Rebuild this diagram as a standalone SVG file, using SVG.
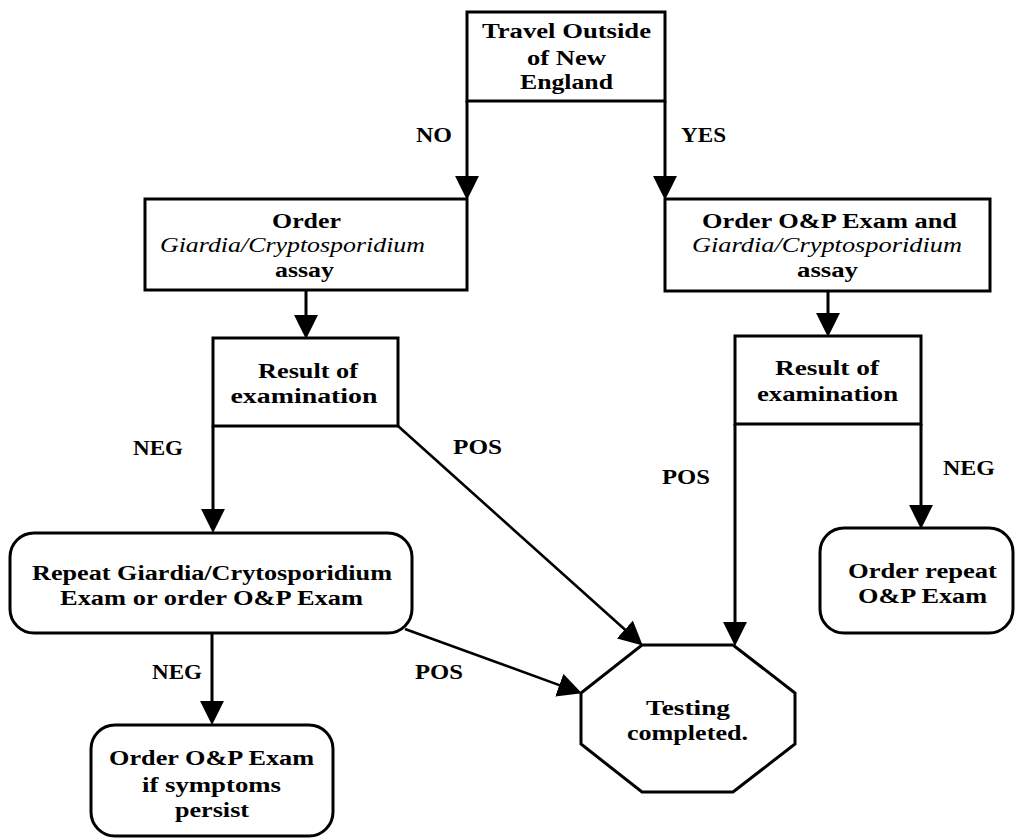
<svg xmlns="http://www.w3.org/2000/svg" width="1016" height="838" viewBox="0 0 1016 838">
<style>
.box{fill:#fff;stroke:#000;stroke-width:3}
.conn{fill:none;stroke:#000;stroke-width:3}
.diag{fill:none;stroke:#000;stroke-width:2.6}
text{font-family:"Liberation Serif","Times New Roman",serif;font-size:20px;font-weight:bold;fill:#000}
.c{text-anchor:middle}
.it{font-style:italic;font-weight:normal}
</style>
<defs>
<marker id="ah" markerUnits="userSpaceOnUse" markerWidth="24" markerHeight="24" viewBox="0 0 22 22" refX="12" refY="11" orient="auto">
<path d="M0,0 L22,11 L0,22 z" fill="#000"/>
</marker>
</defs>
<rect width="1016" height="838" fill="#fff"/>
<g id="connectors">
<line class="conn" x1="467" y1="101" x2="467" y2="189" marker-end="url(#ah)"/>
<line class="conn" x1="665" y1="101" x2="665" y2="189" marker-end="url(#ah)"/>
<line class="conn" x1="306" y1="290" x2="306" y2="328" marker-end="url(#ah)"/>
<line class="conn" x1="828" y1="291" x2="828" y2="326" marker-end="url(#ah)"/>
<line class="conn" x1="213" y1="426" x2="213" y2="522" marker-end="url(#ah)"/>
<line class="diag" x1="398" y1="426" x2="634.6" y2="638.3" marker-end="url(#ah)"/>
<line class="conn" x1="735" y1="424" x2="735" y2="635" marker-end="url(#ah)"/>
<line class="conn" x1="921" y1="424" x2="921" y2="518" marker-end="url(#ah)"/>
<line class="conn" x1="212" y1="633" x2="212" y2="714" marker-end="url(#ah)"/>
<line class="diag" x1="405" y1="629" x2="571.6" y2="689.6" marker-end="url(#ah)"/>
<text x="416" y="142" textLength="36" lengthAdjust="spacingAndGlyphs">NO</text>
<text x="681" y="142" textLength="45" lengthAdjust="spacingAndGlyphs">YES</text>
<text x="133" y="455" textLength="50" lengthAdjust="spacingAndGlyphs">NEG</text>
<text x="453" y="454" textLength="49" lengthAdjust="spacingAndGlyphs">POS</text>
<text x="662" y="484" textLength="48" lengthAdjust="spacingAndGlyphs">POS</text>
<text x="943" y="475" textLength="52" lengthAdjust="spacingAndGlyphs">NEG</text>
<text x="152" y="679" textLength="50" lengthAdjust="spacingAndGlyphs">NEG</text>
<text x="415" y="679" textLength="48" lengthAdjust="spacingAndGlyphs">POS</text>
</g>
<g id="travel">
<rect class="box" x="467" y="12" width="198" height="89"/>
<text class="c" x="566.5" y="38" textLength="169" lengthAdjust="spacingAndGlyphs">Travel Outside</text>
<text class="c" x="566.5" y="65" textLength="79" lengthAdjust="spacingAndGlyphs">of New</text>
<text class="c" x="566.5" y="89" textLength="93" lengthAdjust="spacingAndGlyphs">England</text>
</g>
<g id="order-left">
<rect class="box" x="145" y="199" width="322" height="91"/>
<text class="c" x="306.5" y="228" textLength="69" lengthAdjust="spacingAndGlyphs">Order</text>
<text class="c it" x="292.5" y="252" textLength="265" lengthAdjust="spacingAndGlyphs">Giardia/Cryptosporidium</text>
<text class="c" x="304.5" y="277" textLength="59" lengthAdjust="spacingAndGlyphs">assay</text>
</g>
<g id="order-right">
<rect class="box" x="665" y="199" width="325" height="92"/>
<text class="c" x="829.5" y="228" textLength="255" lengthAdjust="spacingAndGlyphs">Order O&amp;P Exam and</text>
<text class="c it" x="827" y="252" textLength="270" lengthAdjust="spacingAndGlyphs">Giardia/Cryptosporidium</text>
<text class="c" x="827.5" y="277" textLength="61" lengthAdjust="spacingAndGlyphs">assay</text>
</g>
<g id="result-left">
<rect class="box" x="213" y="338" width="185" height="88"/>
<text class="c" x="308" y="378" textLength="100" lengthAdjust="spacingAndGlyphs">Result of</text>
<text class="c" x="304" y="403" textLength="147" lengthAdjust="spacingAndGlyphs">examination</text>
</g>
<g id="result-right">
<rect class="box" x="735" y="336" width="186" height="88"/>
<text class="c" x="827" y="375" textLength="104" lengthAdjust="spacingAndGlyphs">Result of</text>
<text class="c" x="827.5" y="401" textLength="141" lengthAdjust="spacingAndGlyphs">examination</text>
</g>
<g id="repeat">
<rect class="box" x="10" y="533" width="402" height="100" rx="24" ry="24"/>
<text class="c" x="212" y="580" textLength="360" lengthAdjust="spacingAndGlyphs">Repeat Giardia/Crytosporidium</text>
<text class="c" x="211.5" y="605" textLength="303" lengthAdjust="spacingAndGlyphs">Exam or order O&amp;P Exam</text>
</g>
<g id="order-op">
<rect class="box" x="91" y="725" width="242" height="111" rx="24" ry="24"/>
<text class="c" x="211.5" y="765" textLength="205" lengthAdjust="spacingAndGlyphs">Order O&amp;P Exam</text>
<text class="c" x="211.5" y="792" textLength="139" lengthAdjust="spacingAndGlyphs">if symptoms</text>
<text class="c" x="212" y="817" textLength="74" lengthAdjust="spacingAndGlyphs">persist</text>
</g>
<g id="order-repeat">
<rect class="box" x="820" y="528" width="193" height="105" rx="24" ry="24"/>
<text class="c" x="922.5" y="578" textLength="149" lengthAdjust="spacingAndGlyphs">Order repeat</text>
<text class="c" x="922.5" y="603" textLength="129" lengthAdjust="spacingAndGlyphs">O&amp;P Exam</text>
</g>
<g id="testing">
<polygon class="box" points="642,645 733,645 795,693 795,744 733,792 642,792 581,744 581,693"/>
<text class="c" x="688" y="715" textLength="84" lengthAdjust="spacingAndGlyphs">Testing</text>
<text class="c" x="687.5" y="740" textLength="121" lengthAdjust="spacingAndGlyphs">completed.</text>
</g>
</svg>
